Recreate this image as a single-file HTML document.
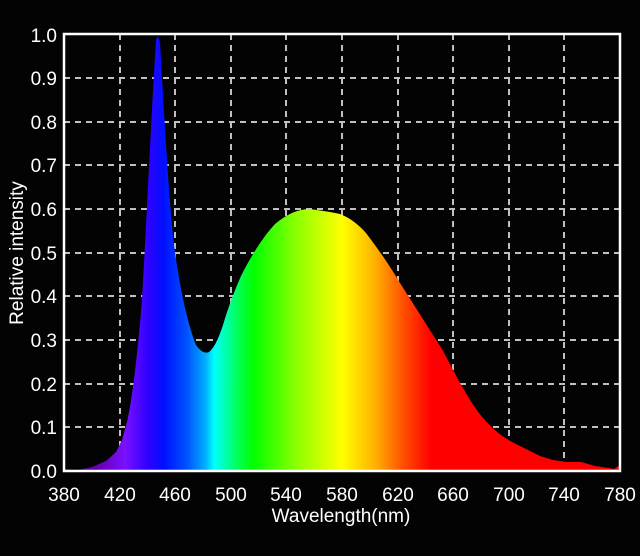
<!DOCTYPE html>
<html><head><style>html,body{margin:0;padding:0;background:#030303;}</style></head>
<body>
<svg width="640" height="551" xmlns="http://www.w3.org/2000/svg" font-family="Liberation Sans, sans-serif">
<defs>
<linearGradient id="sp" gradientUnits="userSpaceOnUse" x1="64" y1="0" x2="620" y2="0">
<stop offset="0" stop-color="#5a0060"/>
<stop offset="0.07" stop-color="#6a00c0"/>
<stop offset="0.11" stop-color="#7a10ff"/>
<stop offset="0.15" stop-color="#3000ff"/>
<stop offset="0.18" stop-color="#0010ff"/>
<stop offset="0.22" stop-color="#0050ff"/>
<stop offset="0.255" stop-color="#00b0ff"/>
<stop offset="0.27" stop-color="#00ffff"/>
<stop offset="0.31" stop-color="#00ff60"/>
<stop offset="0.34" stop-color="#00ff00"/>
<stop offset="0.42" stop-color="#90ff00"/>
<stop offset="0.5" stop-color="#ffff00"/>
<stop offset="0.56" stop-color="#ffb000"/>
<stop offset="0.61" stop-color="#ff5000"/>
<stop offset="0.66" stop-color="#ff0000"/>
<stop offset="1" stop-color="#ff0000"/>
</linearGradient>
</defs>
<rect x="0" y="0" width="640" height="551" fill="#030303"/>
<g stroke="#c0c0c0" stroke-width="2" stroke-dasharray="6,5">
<line x1="120" y1="34" x2="120" y2="471"/><line x1="175" y1="34" x2="175" y2="471"/>
<line x1="231" y1="34" x2="231" y2="471"/><line x1="286" y1="34" x2="286" y2="471"/>
<line x1="342" y1="34" x2="342" y2="471"/><line x1="398" y1="34" x2="398" y2="471"/>
<line x1="453" y1="34" x2="453" y2="471"/><line x1="509" y1="34" x2="509" y2="471"/>
<line x1="564" y1="34" x2="564" y2="471"/>
<line x1="64" y1="78" x2="620" y2="78"/><line x1="64" y1="122" x2="620" y2="122"/>
<line x1="64" y1="165" x2="620" y2="165"/><line x1="64" y1="209" x2="620" y2="209"/>
<line x1="64" y1="253" x2="620" y2="253"/><line x1="64" y1="296" x2="620" y2="296"/>
<line x1="64" y1="340" x2="620" y2="340"/><line x1="64" y1="384" x2="620" y2="384"/>
<line x1="64" y1="427" x2="620" y2="427"/>
</g>
<path fill="url(#sp)" d="M64,471 L64,469 L78,470 L92,467 L106,461 L116,452 L122,440 L127,422 C132,400 137,360 142,300 C146,230 151,120 156,40 L158,36 L160,42 C164,110 168,190 174,245 C180,290 188,325 196,345 C200,351 205,354 209,352 C214,348 218,340 223,325 C228,308 234,292 241,276 C250,258 262,238 275,224 C287,214 298,209 310,209 L330,212 L340,214 C350,218 358,224 366,233 C375,245 387,261 400,283 L414,305 L428,327 L442,349 C450,364 462,388 474,406 C486,424 500,436 514,443 L526,449 L540,456 L553,460 L567,462 L581,462 L595,466 L609,468 L614,469 L620,465 L620,471 Z"/>
<path d="M64,34 L64,471 L620,471 L620,34 Z" fill="none" stroke="#ffffff" stroke-width="2.5"/>
<g fill="#ffffff" font-size="19" text-anchor="end">
<text x="57" y="42">1.0</text><text x="57" y="85">0.9</text><text x="57" y="129">0.8</text>
<text x="57" y="172">0.7</text><text x="57" y="216">0.6</text><text x="57" y="260">0.5</text>
<text x="57" y="303">0.4</text><text x="57" y="347">0.3</text><text x="57" y="391">0.2</text>
<text x="57" y="434">0.1</text><text x="57" y="478">0.0</text>
</g>
<g fill="#ffffff" font-size="19" text-anchor="middle">
<text x="64" y="501">380</text><text x="120" y="501">420</text><text x="175" y="501">460</text>
<text x="231" y="501">500</text><text x="286" y="501">540</text><text x="342" y="501">580</text>
<text x="398" y="501">620</text><text x="453" y="501">660</text><text x="509" y="501">700</text>
<text x="564" y="501">740</text><text x="620" y="501">780</text>
<text x="341" y="522">Wavelength(nm)</text>
<text transform="translate(23,253) rotate(-90)">Relative intensity</text>
</g>
</svg>
</body></html>
